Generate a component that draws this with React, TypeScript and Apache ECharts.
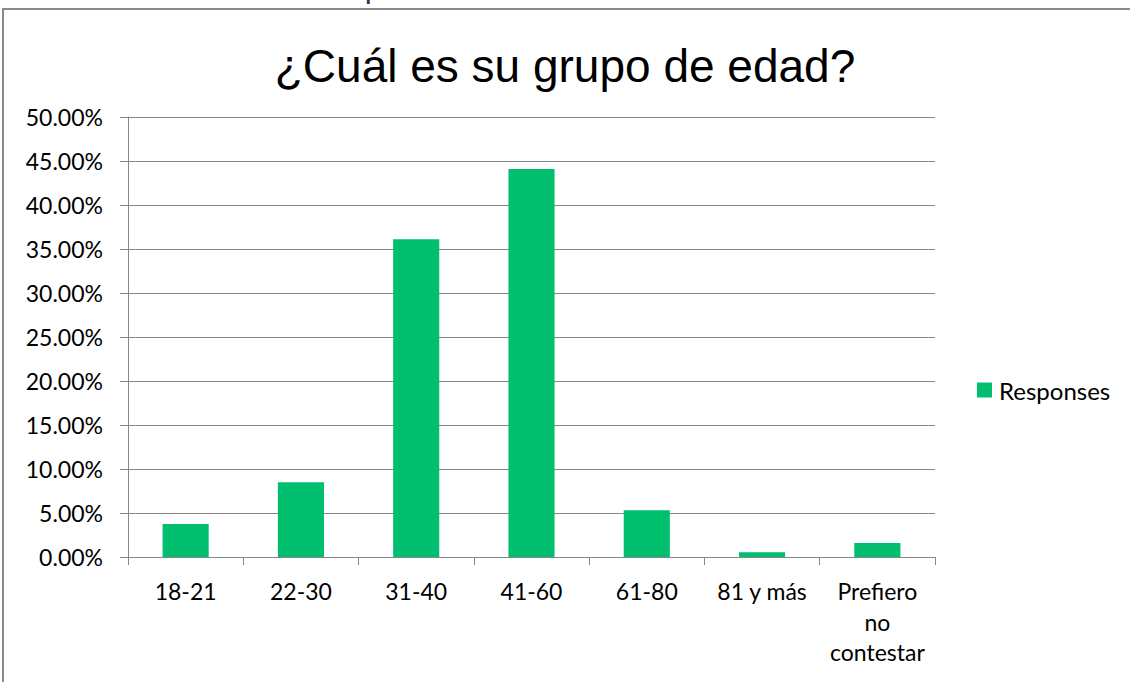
import React, { useEffect, useRef } from "react";
import * as echarts from "echarts";

const categories = ["18-21", "22-30", "31-40", "41-60", "61-80", "81 y más", "Prefiero\nno\ncontestar"];
const responses = [0.0375, 0.085, 0.361, 0.441, 0.053, 0.0055, 0.016];
const seriesName = "Responses";
const titleText = "¿Cuál es su grupo de edad?";
const topCutText = "Grupo de edad";

export default function App() {
  const ref = useRef<HTMLDivElement>(null);
  useEffect(() => {
    if (!ref.current) return;
    const chart = echarts.init(ref.current, null, { renderer: "svg" });
    const font = "Lato, 'Open Sans', sans-serif";
    chart.setOption({
      animation: false,
      backgroundColor: "#ffffff",
      title: {
        text: titleText,
        left: "center",
        top: 38,
        textStyle: { fontFamily: "'Liberation Sans', Arial, sans-serif", fontSize: 46, fontWeight: "normal", color: "#000" },
      },
      graphic: [
        {
          type: "rect",
          shape: { x: 3, y: 9, width: 1200, height: 800 },
          style: { fill: "none", stroke: "#8a8a8a", lineWidth: 2 },
          silent: true,
        },
        {
          type: "text",
          x: 330,
          y: -17,
          style: { text: topCutText, fontFamily: "'Liberation Sans', Arial, sans-serif", fontWeight: "bold", fontSize: 20, fill: "#333" },
        },
      ],
      legend: {
        data: [seriesName],
        left: 972,
        top: 373,
        orient: "vertical",
        icon: "rect",
        itemWidth: 15,
        itemHeight: 15,
        itemGap: 8,
        textStyle: { fontFamily: font, fontSize: 24, color: "#000", padding: [0, 0, 0, 2] },
      },
      grid: { left: 128, right: 195, top: 117, bottom: 125, containLabel: false },
      xAxis: {
        type: "category",
        data: categories,
        axisLine: { lineStyle: { color: "#868686", width: 1 } },
        axisTick: { show: true, length: 8, alignWithLabel: false, lineStyle: { color: "#868686" } },
        axisLabel: { interval: 0, margin: 19, fontFamily: font, fontSize: 23, lineHeight: 30.5, color: "#000" },
      },
      yAxis: {
        type: "value",
        min: 0,
        max: 0.5,
        interval: 0.05,
        axisLine: { show: true, lineStyle: { color: "#868686", width: 1 } },
        axisTick: { show: true, length: 8, lineStyle: { color: "#868686" } },
        splitLine: { show: true, lineStyle: { color: "#868686", width: 1 } },
        axisLabel: {
          margin: 25,
          fontFamily: font,
          fontSize: 23,
          color: "#000",
          formatter: (v: number) => (v * 100).toFixed(2) + "%",
        },
      },
      series: [
        {
          name: seriesName,
          type: "bar",
          data: responses,
          barWidth: "40%",
          itemStyle: { color: "#00BF6F" },
        },
      ],
    });
    return () => chart.dispose();
  }, []);
  return <div ref={ref} style={{ position: "fixed", left: 0, top: 0, width: 1130, height: 682 }} />;
}
